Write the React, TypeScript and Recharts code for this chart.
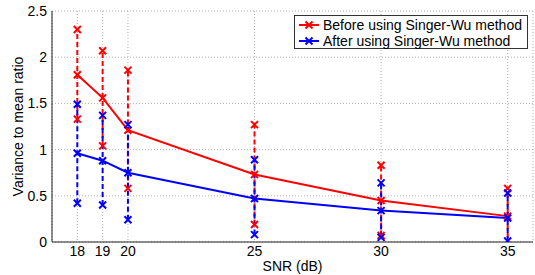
import { CartesianGrid, ComposedChart, Line, XAxis, YAxis } from "recharts";

const snr = [18, 19, 20, 25, 30, 35];
const beforeMean = [1.81, 1.56, 1.21, 0.73, 0.45, 0.28];
const beforeUpper = [2.3, 2.07, 1.86, 1.27, 0.83, 0.58];
const beforeLower = [1.33, 1.04, 0.58, 0.19, 0.07, -0.04];
const afterMean = [0.96, 0.88, 0.75, 0.47, 0.34, 0.26];
const afterUpper = [1.49, 1.37, 1.27, 0.89, 0.64, 0.53];
const afterLower = [0.42, 0.4, 0.24, 0.08, 0.05, 0.01];
const yTicks = [0, 0.5, 1, 1.5, 2, 2.5];

const RED = "#ff0000";
const BLUE = "#0000ff";
const FONT = "'Liberation Sans', Arial, sans-serif";

const meanRows = (ys: number[]) => snr.map((x, i) => ({ x, y: ys[i] }));
const barRows = (lo: number[], hi: number[]) =>
  snr.map((x, i) => [
    { x, y: lo[i] },
    { x, y: hi[i] },
  ]);

const cross = (color: string) => (p: any) => {
  const { cx, cy, key } = p;
  if (cx == null || cy == null) return <g key={key} />;
  const r = 3.5;
  return (
    <path
      key={key}
      d={`M${cx - r},${cy - r}L${cx + r},${cy + r}M${cx - r},${cy + r}L${cx + r},${cy - r}`}
      stroke={color}
      strokeWidth={2}
      fill="none"
    />
  );
};

function LegendBox() {
  const rows = [
    { label: "Before using Singer-Wu method", color: RED },
    { label: "After using Singer-Wu method", color: BLUE },
  ];
  return (
    <div
      style={{
        position: "absolute",
        left: 294,
        top: 15,
        width: 234,
        height: 34,
        background: "#fff",
        border: "1px solid #333",
        fontFamily: FONT,
        fontSize: 14,
        lineHeight: "16px",
        boxSizing: "border-box",
        paddingTop: 1,
      }}
    >
      {rows.map((r) => (
        <div key={r.label} style={{ display: "flex", alignItems: "center", height: 16 }}>
          <svg width={26} height={16} style={{ marginLeft: 2 }}>
            <line x1={2} x2={22} y1={8} y2={8} stroke={r.color} strokeWidth={2} />
            <path d="M8.5,4.5L15.5,11.5M8.5,11.5L15.5,4.5" stroke={r.color} strokeWidth={2} />
          </svg>
          <span>{r.label}</span>
        </div>
      ))}
    </div>
  );
}

export default function App() {
  const beforeBars = barRows(beforeLower, beforeUpper);
  const afterBars = barRows(afterLower, afterUpper);
  return (
    <div style={{ position: "absolute", left: 0, top: 0, width: 535, height: 275, background: "#fff" }}>
      <ComposedChart width={535} height={275} margin={{ top: 11, right: 2, left: 0, bottom: 0 }}>
        <CartesianGrid stroke="#b0b0b0" strokeDasharray="1 2" />
        <XAxis
          dataKey="x"
          type="number"
          domain={[17, 36]}
          ticks={snr}
          allowDataOverflow
          height={33}
          tickSize={0}
          tickMargin={4}
          stroke="#222"
          tick={{ fill: "#000", fontSize: 14, fontFamily: FONT }}
          label={(p: any) => (
            <text
              x={p.viewBox.x + p.viewBox.width / 2}
              y={p.viewBox.y + 24}
              textAnchor="middle"
              dominantBaseline="central"
              fontSize={14}
              fontFamily={FONT}
              fill="#000"
            >
              SNR (dB)
            </text>
          )}
        />
        <XAxis xAxisId="top" orientation="top" type="number" domain={[17, 36]} height={0} tick={false} tickLine={false} stroke="#222" />
        <YAxis
          type="number"
          domain={[0, 2.5]}
          ticks={yTicks}
          allowDataOverflow
          width={52}
          tickSize={0}
          tickMargin={5}
          stroke="#222"
          tick={{ fill: "#000", fontSize: 14, fontFamily: FONT }}
          label={(p: any) => (
            <text
              x={18}
              y={p.viewBox.y + p.viewBox.height / 2}
              transform={`rotate(-90 18 ${p.viewBox.y + p.viewBox.height / 2})`}
              textAnchor="middle"
              dominantBaseline="central"
              fontSize={14}
              fontFamily={FONT}
              fill="#000"
            >
              Variance to mean ratio
            </text>
          )}
        />
        <YAxis yAxisId="right" orientation="right" type="number" domain={[0, 2.5]} width={0} tick={false} tickLine={false} stroke="#222" />

        {beforeBars.map((d, i) => (
          <Line
            key={`rb${i}`}
            data={d}
            dataKey="y"
            stroke={RED}
            strokeWidth={2}
            strokeDasharray="5 3"
            dot={cross(RED)}
            activeDot={false}
            isAnimationActive={false}
          />
        ))}
        <Line
          data={meanRows(beforeMean)}
          dataKey="y"
          stroke={RED}
          strokeWidth={2}
          dot={cross(RED)}
          activeDot={false}
          isAnimationActive={false}
        />
        {afterBars.map((d, i) => (
          <Line
            key={`bb${i}`}
            data={d}
            dataKey="y"
            stroke={BLUE}
            strokeWidth={2}
            strokeDasharray="5 3"
            dot={cross(BLUE)}
            activeDot={false}
            isAnimationActive={false}
          />
        ))}
        <Line
          data={meanRows(afterMean)}
          dataKey="y"
          stroke={BLUE}
          strokeWidth={2}
          dot={cross(BLUE)}
          activeDot={false}
          isAnimationActive={false}
        />
      </ComposedChart>
      <LegendBox />
    </div>
  );
}
